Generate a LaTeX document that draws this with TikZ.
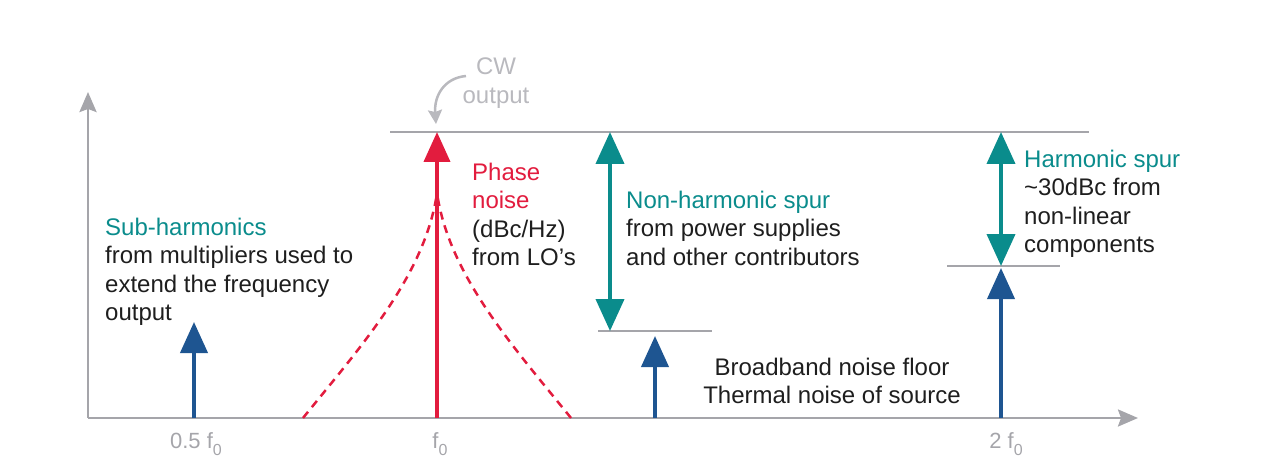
\documentclass[tikz,border=0pt]{standalone}
\usepackage{fontspec}
\setmainfont{Liberation Sans}
\usetikzlibrary{arrows.meta}
\definecolor{axisgray}{RGB}{165,165,170}
\definecolor{cwgray}{RGB}{185,185,190}
\definecolor{tealc}{RGB}{10,140,140}
\definecolor{bluec}{RGB}{30,85,145}
\definecolor{redc}{RGB}{226,28,62}
\definecolor{txtc}{RGB}{30,30,30}
\newcommand{\fsub}{f\raisebox{-7pt}{\fontsize{16}{16}\selectfont 0}}
\begin{document}
\begin{tikzpicture}[x=1pt,y=-1pt,
  lbl/.style={font=\fontsize{24}{28.4}\selectfont, align=left, inner sep=0pt, anchor=north west, text=txtc},
  ticklbl/.style={font=\fontsize{22}{25}\selectfont, inner sep=0pt, anchor=base, text=axisgray},
  axisline/.style={draw=axisgray, line width=2.6pt, -{Stealth[length=20pt,width=17pt,inset=3pt]}},
  refline/.style={draw=axisgray, line width=2.2pt},
  bluearrow/.style={draw=bluec, line width=4pt, -{Triangle[length=31pt,width=27pt]}},
  tealarrow/.style={draw=tealc, line width=4pt, {Triangle[length=32pt,width=28pt]}-{Triangle[length=32pt,width=28pt]}},
  redarrow/.style={draw=redc, line width=4pt, -{Triangle[length=30pt,width=26pt]}},
  reddash/.style={draw=redc, line width=2.5pt, dash pattern=on 8pt off 6pt},
  cwarrow/.style={draw=cwgray, line width=2.5pt, -{Stealth[length=14pt,width=14pt,inset=2pt]}}
]
\useasboundingbox (0,0) rectangle (1280,468);
% coordinates
\coordinate (O) at (88,418);
\coordinate (Ytip) at (88,92);
\coordinate (Xtip) at (1138,418);
\coordinate (topL) at (390,132);
\coordinate (topR) at (1089,132);
\coordinate (nhL) at (598,331);
\coordinate (nhR) at (712,331);
\coordinate (hL) at (947,266);
\coordinate (hR) at (1060,266);
\coordinate (subB) at (194,418);
\coordinate (subT) at (194,322);
\coordinate (f0B) at (437,418);
\coordinate (f0T) at (437,132);
\coordinate (peak) at (437,193);
\coordinate (pnL) at (303,418);
\coordinate (pnR) at (571,418);
\coordinate (nhT) at (610,132);
\coordinate (nhB) at (610,331);
\coordinate (bbB) at (655,418);
\coordinate (bbT) at (655,336);
\coordinate (hT) at (1001,132);
\coordinate (hB) at (1001,266);
\coordinate (h2B) at (1001,418);
\coordinate (h2T) at (1001,268);
\coordinate (cwS) at (466,76);
\coordinate (cwE) at (436,124);

% axes
\draw[axisline] (O) -- (Ytip);
\draw[axisline] (O) -- (Xtip);
% reference lines
\draw[refline] (topL) -- (topR);
\draw[refline] (nhL) -- (nhR);
\draw[refline] (hL) -- (hR);

% phase noise skirts
\draw[reddash] (pnL) .. controls (362,345) and (425,275) .. (peak);
\draw[reddash] (pnR) .. controls (512,345) and (449,275) .. (peak);

% arrows
\draw[bluearrow] (subB) -- (subT);
\draw[redarrow] (f0B) -- (f0T);
\draw[tealarrow] (nhT) -- (nhB);
\draw[bluearrow] (bbB) -- (bbT);
\draw[tealarrow] (hT) -- (hB);
\draw[bluearrow] (h2B) -- (h2T);
\draw[cwarrow] (cwS) .. controls (444,78) and (434,96) .. (cwE);

% labels
\node[lbl] (sub) at (105,218) {\textcolor{tealc}{Sub-harmonics}\\from multipliers used to\\extend the frequency\\output};
\node[lbl] (pn) at (472,163) {\textcolor{redc}{Phase}\\\textcolor{redc}{noise}\\(dBc/Hz)\\from LO’s};
\node[lbl] (nh) at (626,191) {\textcolor{tealc}{Non-harmonic spur}\\from power supplies\\and other contributors};
\node[lbl] (hs) at (1024,150) {\textcolor{tealc}{Harmonic spur}\\\textasciitilde30dBc from\\non-linear\\components};
\node[lbl, align=center, anchor=north] (bb) at (832,358) {Broadband noise floor\\Thermal noise of source};
\node[lbl, align=center, anchor=north, text=cwgray] (cw) at (496,58) {CW\\output};

\node[ticklbl] (t1) at (196,448) {0.5 \fsub};
\node[ticklbl] (t2) at (440,448) {\fsub};
\node[ticklbl] (t3) at (1006,448) {2 \fsub};
\end{tikzpicture}
\end{document}
